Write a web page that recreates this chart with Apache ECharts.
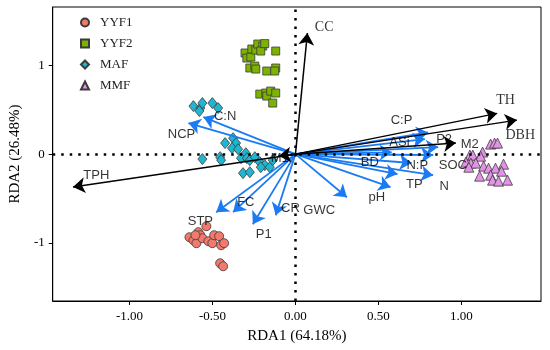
<!DOCTYPE html>
<html>
<head>
<meta charset="utf-8">
<script src="https://cdn.jsdelivr.net/npm/echarts@6/dist/echarts.min.js"></script>
<style>html,body{margin:0;padding:0;background:#fff;}#c{width:550px;height:350px;}</style>
</head>
<body>
<div id="c"></div>
<script>
// ---- data ----
const groups = ['YYF1', 'YYF2', 'MAF', 'MMF'];
const yyf1 = [[-0.537,-0.812],[-0.585,-0.879],[-0.573,-0.913],[-0.639,-0.936],[-0.615,-0.970],[-0.597,-1.003],[-0.561,-0.947],[-0.525,-0.981],[-0.501,-1.003],[-0.490,-0.913],[-0.460,-0.924],[-0.448,-1.026],[-0.430,-1.003],[-0.454,-1.229],[-0.436,-1.263],[-0.603,-0.913]];
const yyf2 = [[-0.304,1.139],[-0.293,1.082],[-0.269,1.094],[-0.263,1.184],[-0.239,1.172],[-0.227,1.240],[-0.197,1.218],[-0.209,1.161],[-0.185,1.245],[-0.119,1.161],[-0.275,0.970],[-0.245,0.992],[-0.239,0.958],[-0.173,0.936],[-0.119,0.970],[-0.125,0.936],[-0.215,0.676],[-0.179,0.688],[-0.173,0.654],[-0.149,0.710],[-0.119,0.688],[-0.137,0.575]];
const maf = [[-0.615,0.541],[-0.573,0.519],[-0.561,0.575],[-0.501,0.575],[-0.466,0.519],[-0.579,0.485],[-0.424,0.124],[-0.376,0.180],[-0.358,0.124],[-0.382,0.068],[-0.346,0.056],[-0.561,-0.056],[-0.454,-0.034],[-0.448,-0.068],[-0.328,-0.045],[-0.299,0.011],[-0.293,-0.045],[-0.275,-0.068],[-0.245,-0.034],[-0.215,-0.090],[-0.185,-0.124],[-0.155,-0.147],[-0.137,-0.068],[-0.209,-0.147],[-0.316,-0.214],[-0.275,-0.203]];
const mmf = [[1.176,0.113],[1.200,0.124],[1.218,0.124],[1.051,-0.011],[1.069,-0.011],[1.128,0.023],[1.116,-0.023],[1.027,-0.090],[1.057,-0.101],[1.087,-0.101],[1.045,-0.147],[1.134,-0.135],[1.164,-0.158],[1.206,-0.158],[1.254,-0.113],[1.242,-0.192],[1.110,-0.248],[1.176,-0.237],[1.188,-0.293],[1.224,-0.304],[1.278,-0.293]];

// black arrows (stand structure variables)
const blackNames = ['CC', 'TH', 'DBH', 'TPH', 'M1', 'M2'];
const blackTips = [[0.072,1.364],[1.216,0.459],[1.335,0.383],[-1.341,-0.369],[-0.10,-0.02],[0.967,0.124]];
const blackLabelAt = [[0.173,1.432],[1.266,0.609],[1.355,0.214],[-1.20,-0.237],[-0.095,-0.045],[1.05,0.11]];

// blue arrows (soil variables)
const blueNames = ['C:N', 'NCP', 'STP', 'FC', 'P1', 'CR', 'GWC', 'pH', 'TP', 'N', 'N:P', 'SOC', 'BD', 'ASi', 'P2', 'C:P'];
const blueTips = [[-0.555,0.417],[-0.645,0.350],[-0.478,-0.654],[-0.376,-0.654],[-0.257,-0.789],[-0.119,-0.688],[0.310,-0.485],[0.573,-0.372],[0.615,-0.225],[0.830,-0.237],[0.700,-0.100],[0.830,-0.010],[0.580,0.020],[0.780,0.170],[0.860,0.080],[0.800,0.245]];
const blueLabelAt = [[-0.424,0.428],[-0.687,0.225],[-0.573,-0.755],[-0.299,-0.541],[-0.191,-0.902],[-0.030,-0.609],[0.143,-0.631],[0.490,-0.485],[0.716,-0.338],[0.896,-0.361],[0.734,-0.124],[0.949,-0.124],[0.448,-0.090],[0.627,0.135],[0.896,0.169],[0.639,0.383]];

const xTicks = [-1, -0.5, 0, 0.5, 1];
const yTicks = [-1, 0, 1];

// ---- chart ----
const serif = '"Liberation Serif","Times New Roman",serif';
const sans = '"Liberation Sans",Arial,sans-serif';
const chart = echarts.init(document.getElementById('c'), null, {renderer: 'canvas'});

function arrows(names, tips, color, width, z) {
  return {
    type: 'lines', coordinateSystem: 'cartesian2d', z: z, silent: true,
    symbol: ['none', 'arrow'], symbolSize: [9, 12],
    lineStyle: {color: color, width: width, opacity: 1},
    data: tips.map((t, i) => ({name: names[i], coords: [[0, 0], t]}))
  };
}
function labels(names, pos, font, size, z) {
  return {
    type: 'scatter', symbolSize: 0, z: z, silent: true,
    label: {show: true, position: 'inside', formatter: p => p.name, color: '#000', fontFamily: font, fontSize: size},
    data: pos.map((p, i) => ({name: names[i], value: p}))
  };
}
const pointStyle = (fill) => ({color: fill, borderColor: '#3b3b3b', borderWidth: 0.8, opacity: 1});

chart.setOption({
  animation: false,
  grid: {left: 48, right: 9, top: 7, bottom: 49, show: true, borderColor: '#000', borderWidth: 1},
  legend: {
    orient: 'vertical', left: 75, top: 11, itemGap: 8, itemWidth: 8, itemHeight: 8,
    textStyle: {fontFamily: serif, fontSize: 13, color: '#222', padding: [0, 0, 0, 6]},
    data: [
      {name: 'YYF1', icon: 'circle'},
      {name: 'YYF2', icon: 'rect'},
      {name: 'MAF', icon: 'diamond'},
      {name: 'MMF', icon: 'triangle'}
    ]
  },
  xAxis: {
    type: 'value', min: -1.463, max: 1.48,
    name: 'RDA1 (64.18%)', nameLocation: 'middle', nameGap: 28,
    nameTextStyle: {fontFamily: serif, fontSize: 15, color: '#000'},
    axisLine: {onZero: false, lineStyle: {color: '#000'}},
    axisTick: {show: true, customValues: xTicks, length: 4, lineStyle: {color: '#000'}},
    axisLabel: {customValues: xTicks, formatter: v => v.toFixed(2), fontFamily: serif, fontSize: 13, color: '#000', margin: 9},
    splitLine: {show: false}
  },
  yAxis: {
    type: 'value', min: -1.654, max: 1.657,
    name: 'RDA2 (26.48%)', nameLocation: 'middle', nameGap: 28, nameRotate: 90,
    nameTextStyle: {fontFamily: serif, fontSize: 15, color: '#000'},
    axisLine: {onZero: false, lineStyle: {color: '#000'}},
    axisTick: {show: true, customValues: yTicks, length: 4, lineStyle: {color: '#000'}},
    axisLabel: {customValues: yTicks, formatter: v => String(v), fontFamily: serif, fontSize: 13, color: '#000', margin: 8},
    splitLine: {show: false}
  },
  series: [
    {
      type: 'scatter', name: 'zero', data: [], z: 1, silent: true,
      markLine: {
        silent: true, symbol: ['none', 'none'], label: {show: false},
        lineStyle: {color: '#000', type: [2.5, 6], width: 2.5, cap: 'butt'},
        data: [{xAxis: 0}, {yAxis: 0}]
      }
    },
    {name: 'YYF1', type: 'scatter', symbol: 'circle', symbolSize: 9, z: 2, itemStyle: pointStyle('#F2796B'), data: yyf1},
    {name: 'YYF2', type: 'scatter', symbol: 'rect', symbolSize: 8, z: 2, itemStyle: pointStyle('#7CB200'), data: yyf2},
    {name: 'MAF', type: 'scatter', symbol: 'diamond', symbolSize: [9, 11], z: 2, itemStyle: pointStyle('#20B6D2'), data: maf},
    {name: 'MMF', type: 'scatter', symbol: 'triangle', symbolSize: 10, z: 2, itemStyle: pointStyle('#E393E6'), data: mmf},
    arrows(blueNames, blueTips, '#1B7BF2', 1.8, 3),
    arrows(blackNames, blackTips, '#000', 1.5, 4),
    labels(blueNames, blueLabelAt, sans, 13, 5),
    labels(['TPH', 'M1', 'M2'], [blackLabelAt[3], blackLabelAt[4], blackLabelAt[5]], sans, 13, 5),
    labels(['CC', 'TH', 'DBH'], [blackLabelAt[0], blackLabelAt[1], blackLabelAt[2]], serif, 14, 5)
  ]
});
</script>
</body>
</html>
